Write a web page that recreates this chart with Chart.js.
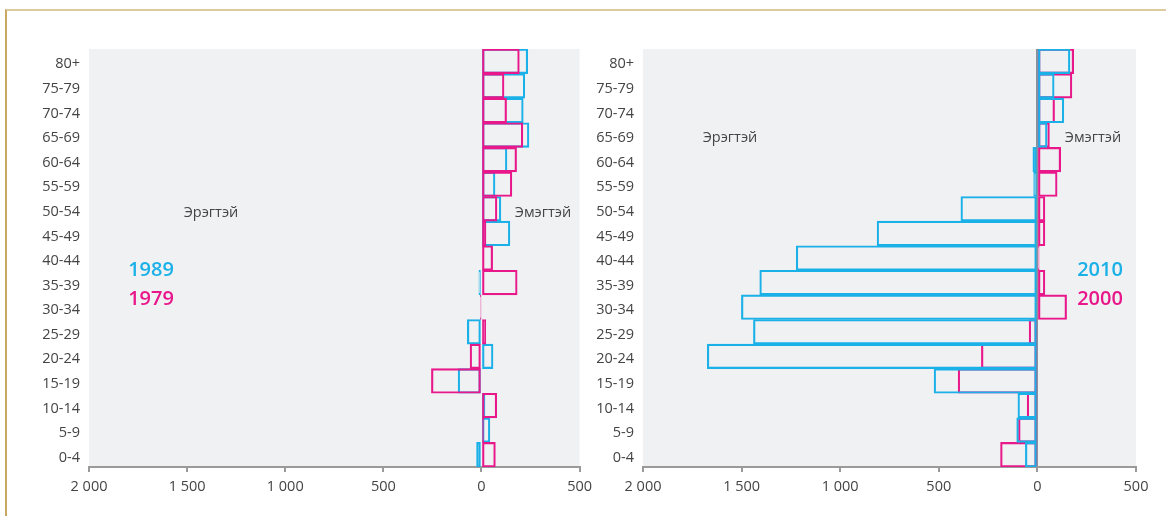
<!DOCTYPE html>
<html>
<head>
<meta charset="utf-8">
<script src="https://cdn.jsdelivr.net/npm/chart.js@4.4.0/dist/chart.umd.min.js"></script>
<style>
    body { margin: 0; background: #fff; }
    #frame { position: absolute; left: 5px; top: 9px; width: 1161px; height: 507px;
             border-top: 2px solid #dccb9f; border-left: 2px solid #c9a862; }
    canvas { position: absolute; top: 0; }
    #left { left: 0; }
    #right { left: 590px; }
</style>
</head>
<body>
<div id="frame"></div>
<canvas id="left" width="598" height="516"></canvas>
<canvas id="right" width="576" height="516"></canvas>
<script>
// age groups, bottom to top
const ageGroups = ["0-4", "5-9", "10-14", "15-19", "20-24", "25-29", "30-34", "35-39",
    "40-44", "45-49", "50-54", "55-59", "60-64", "65-69", "70-74", "75-79", "80+"];

// negative = Эрэгтэй side, positive = Эмэгтэй side
const val1979 = [71, 12, 78, -255, -58, 22, -2, 182, 57, 23, 79, 155, 179, 211, 128, 115, 193];
const val1989 = [-25, 43, 18, -119, 59, -72, -5, -13, 5, 145, 99, 69, 130, 242, 213, 221, 236];
const val2000 = [-187, -96, -52, -402, -284, -42, 148, 38, 9, 38, 38, 100, 118, 61, 87, 175, 184];
const val2010 = [-61, -105, -99, -524, -1674, -1440, -1501, -1408, -1223, -813, -388, -19, -23, 49, 134, 85, 165];

const cyan = "#1ab0e8";
const magenta = "#e8178a";
const font = "'Open Sans', 'Noto Sans', sans-serif";

function fmt(v)
{
    const n = Math.abs(v);
    if (n >= 1000) return Math.floor(n / 1000) + " " + String(n % 1000).padStart(3, "0");
    return String(n);
}

function makeDataset(label, data, color)
{
    return {
        label: label,
        data: data,
        backgroundColor: "rgba(0,0,0,0)",
        borderColor: color,
        borderWidth: 1.5,
        borderSkipped: false,
        barPercentage: 1,
        categoryPercentage: 1,
        grouped: false
    };
}

const plotBg = {
    id: "plotBg",
    beforeDraw(chart) {
        const a = chart.chartArea;
        chart.ctx.save();
        chart.ctx.fillStyle = "#f0f1f3";
        chart.ctx.fillRect(a.left, a.top, a.right - a.left, a.bottom - a.top);
        chart.ctx.restore();
    }
};

function textPlugin(texts)
{
    return {
        id: "texts",
        afterDraw(chart) {
            const ctx = chart.ctx;
            ctx.save();
            ctx.textAlign = "center";
            ctx.textBaseline = "middle";
            texts.forEach(t => {
                ctx.font = t.font;
                ctx.fillStyle = t.color;
                ctx.fillText(t.text, t.x, t.y);
            });
            ctx.restore();
        }
    };
}

function makeChart(id, sets, yWidth, padRight, texts, zeroLine)
{
    return new Chart(document.getElementById(id), {
        type: "bar",
        data: { labels: ageGroups, datasets: sets },
        plugins: [plotBg, textPlugin(texts)],
        options: {
            indexAxis: "y",
            responsive: false,
            animation: false,
            layout: { padding: { top: 49, right: padRight, left: 0, bottom: 0 } },
            plugins: { legend: { display: false }, tooltip: { enabled: false } },
            scales: {
                x: {
                    min: -2000,
                    max: 500,
                    afterFit: s => { s.height = 49; },
                    ticks: {
                        stepSize: 500,
                        padding: 6,
                        color: "#444",
                        font: { family: font, size: 14.5 },
                        callback: v => fmt(v)
                    },
                    grid: {
                        drawOnChartArea: zeroLine,
                        drawTicks: true,
                        tickLength: 5,
                        tickColor: "#9a9a9a",
                        lineWidth: 2,
                        color: c => (c.tick && c.tick.value === 0) ? "#8a909c" : "rgba(0,0,0,0)"
                    },
                    border: { display: true, color: "#9a9a9a", width: 2 }
                },
                y: {
                    reverse: true,
                    afterFit: s => { s.width = yWidth; },
                    ticks: {
                        padding: 1,
                        labelOffset: 3,
                        color: "#444",
                        font: { family: font, size: 14.5 }
                    },
                    grid: { display: false },
                    border: { display: false }
                }
            }
        }
    });
}

makeChart("left",
    [makeDataset("1979", val1979, magenta), makeDataset("1989", val1989, cyan)],
    89, 0,
    [
        { text: "Эрэгтэй", x: 211, y: 213, color: "#444", font: "14.5px " + font },
        { text: "Эмэгтэй", x: 543, y: 213, color: "#444", font: "14.5px " + font },
        { text: "1989", x: 151, y: 270, color: cyan, font: "600 20px " + font },
        { text: "1979", x: 151, y: 299, color: magenta, font: "600 20px " + font }
    ],
    false);

makeChart("right",
    [makeDataset("2010", val2010, cyan), makeDataset("2000", val2000, magenta)],
    53, 30,
    [
        { text: "Эрэгтэй", x: 140, y: 138, color: "#444", font: "14.5px " + font },
        { text: "Эмэгтэй", x: 503, y: 138, color: "#444", font: "14.5px " + font },
        { text: "2010", x: 510, y: 270, color: cyan, font: "600 20px " + font },
        { text: "2000", x: 510, y: 299, color: magenta, font: "600 20px " + font }
    ],
    true);
</script>
</body>
</html>
